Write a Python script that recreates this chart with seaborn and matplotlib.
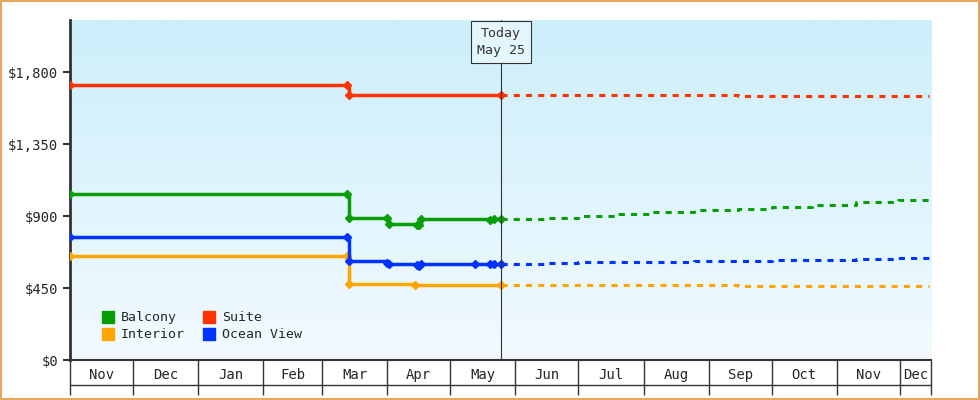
import matplotlib
matplotlib.use("Agg")
import matplotlib.pyplot as plt
import matplotlib.dates as mdates
from matplotlib.lines import Line2D
import numpy as np
import pandas as pd
import seaborn as sns

sns.set_style("white")
plt.rcParams['font.family'] = ['DejaVu Sans Mono']

# price history (steps)
hist_dates = ["2024-11-01", "2025-03-13", "2025-03-14", "2025-04-01", "2025-04-02",
              "2025-04-14", "2025-04-15", "2025-04-16", "2025-04-17", "2025-05-13",
              "2025-05-20", "2025-05-22", "2025-05-25"]
balcony = [1040, 1040, 885, 885, 850, 850, 845, 845, 880, 880, 875, 880, 880]
suite = [1720, 1720, 1655, 1655, 1655, 1655, 1655, 1655, 1655, 1655, 1655, 1655, 1655]
ocean_view = [770, 770, 620, 605, 600, 600, 595, 590, 600, 600, 600, 600, 600]
interior = [650, 650, 475, 475, 475, 470, 470, 470, 470, 470, 470, 470, 470]

# which history points carry a marker
balcony_marks = [1, 1, 1, 1, 1, 0, 1, 1, 1, 0, 1, 1, 1]
suite_marks = [1, 1, 1, 0, 0, 0, 0, 0, 0, 0, 0, 0, 1]
ocean_marks = [1, 1, 1, 1, 1, 0, 1, 1, 1, 1, 1, 1, 1]
interior_marks = [1, 1, 1, 0, 0, 1, 0, 0, 0, 0, 0, 0, 1]

# forecast (dotted)
fc_dates = ["2025-05-25", "2025-06-15", "2025-07-01", "2025-07-20", "2025-08-05", "2025-08-25",
            "2025-09-15", "2025-10-01", "2025-10-20", "2025-11-10", "2025-11-30", "2025-12-15"]
fc_balcony = [880, 890, 900, 910, 925, 935, 945, 955, 970, 985, 1000, 1025]
fc_suite = [1655, 1655, 1655, 1655, 1655, 1655, 1650, 1650, 1650, 1650, 1650, 1650]
fc_ocean = [600, 605, 610, 612, 615, 618, 620, 625, 628, 632, 635, 638]
fc_interior = [470, 470, 468, 468, 468, 468, 465, 465, 465, 465, 465, 465]

series = [("Balcony", "#079e07", balcony, fc_balcony, balcony_marks),
          ("Suite", "#ff3300", suite, fc_suite, suite_marks),
          ("Interior", "#ffa500", interior, fc_interior, interior_marks),
          ("Ocean View", "#0033ff", ocean_view, fc_ocean, ocean_marks)]

month_starts = pd.date_range("2024-11-01", "2025-12-01", freq="MS")
month_names = ["Nov", "Dec", "Jan", "Feb", "Mar", "Apr", "May", "Jun",
               "Jul", "Aug", "Sep", "Oct", "Nov", "Dec"]
x_end = pd.Timestamp("2025-12-16")
today = pd.Timestamp("2025-05-25")

fig = plt.figure(figsize=(9.8, 4), dpi=100)
fig.patches.append(plt.Rectangle((0.001, 0.002), 0.998, 0.996, transform=fig.transFigure,
                                 fill=False, edgecolor="#e8a860", linewidth=1.5))
ax = fig.add_axes([0.0714, 0.1, 0.879, 0.85])

x0 = mdates.date2num(pd.Timestamp("2024-11-01"))
x1 = mdates.date2num(x_end)
grad = np.linspace(0, 1, 256).reshape(-1, 1)
cmap = matplotlib.colors.LinearSegmentedColormap.from_list("bg", ["#f2faff", "#cceffb"])
ax.imshow(grad, aspect="auto", cmap=cmap, extent=[x0, x1, 2125, 0], zorder=0)

hd = pd.to_datetime(hist_dates)
for name, color, h, f, m in series:
    ax.plot(hd, h, drawstyle="steps-post", color=color, linewidth=2.5, zorder=3)
    sel = np.array(m, dtype=bool)
    ax.plot(hd[sel], np.array(h)[sel], linestyle="none", marker="D", markersize=4.5,
            color=color, zorder=3)
    ax.plot(pd.to_datetime(fc_dates), f, drawstyle="steps-post", color=color,
            linewidth=2.2, linestyle=(0, (2, 2)), zorder=3)

ax.set_xlim(x0, x1)
ax.set_ylim(0, 2125)
ax.set_yticks([0, 450, 900, 1350, 1800])
ax.set_yticklabels(["$0", "$450", "$900", "$1,350", "$1,800"])
ax.tick_params(axis="y", left=True, length=5, width=1.5, color="#333333", labelsize=10)

ax.set_xticks(list(month_starts) + [x_end])
ax.set_xticklabels([])
ax.tick_params(axis="x", which="major", bottom=True, length=25, width=1,
               color="#333333", direction="out")
mids = [ms + (min(ms + pd.offsets.MonthBegin(1), x_end) - ms) / 2 for ms in month_starts]
ax.set_xticks(mids, minor=True)
ax.set_xticklabels(month_names, minor=True)
ax.tick_params(axis="x", which="minor", bottom=True, length=0, pad=6, labelsize=10)
ax.plot([0, 1], [-25 / 340, -25 / 340], transform=ax.transAxes, color="#333333",
        linewidth=1, clip_on=False)

for s in ["top", "right"]:
    ax.spines[s].set_visible(False)
ax.spines["left"].set_linewidth(2)
ax.spines["left"].set_color("#333333")
ax.spines["bottom"].set_linewidth(1.5)
ax.spines["bottom"].set_color("#333333")

ax.axvline(today, color="#333333", linewidth=0.8, zorder=4)
ax.text(today, 1990, "Today\nMay 25", ha="center", va="center", fontsize=9.5,
        color="#333333", zorder=5, linespacing=1.4,
        bbox=dict(boxstyle="square,pad=0.45", facecolor="#e4f6fd", edgecolor="#333333", linewidth=0.8))

handles = [Line2D([], [], marker="s", linestyle="none", color=c, markersize=8) for _, c, _, _, _ in series]
order = [0, 2, 1, 3]
ax.legend([handles[i] for i in order], [series[i][0] for i in order], ncol=2, loc="lower left",
          frameon=False, handletextpad=0.0, columnspacing=0.8, labelspacing=0.3, fontsize=9.5,
          bbox_to_anchor=(0.015, 0.02))

fig.savefig("out.png", dpi=100)
